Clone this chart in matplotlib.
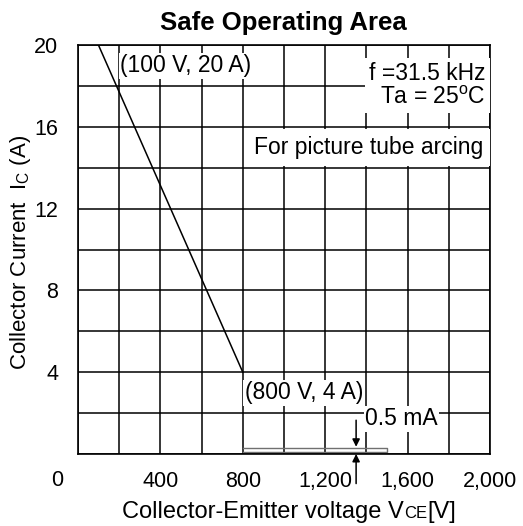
import matplotlib.pyplot as plt

plt.rcParams['font.family'] = ['Liberation Sans', 'DejaVu Sans']
plt.rcParams['mathtext.fontset'] = 'custom'
plt.rcParams['mathtext.rm'] = 'Liberation Sans'
plt.rcParams['mathtext.it'] = 'Liberation Sans:italic'

# SOA limit line (VCE, IC)
soa_v = [100, 800]
soa_i = [20, 4]
# leakage band (0.5 mA region), drawn as a thin double line
leak_v = [800, 1500, 1500, 800]
leak_i = [0.3, 0.3, 0.1, 0.1]
arrow_v = 1350

x_grid = list(range(0, 2001, 200))
x_labels = {400: '400', 800: '800', 1200: '1,200', 1600: '1,600', 2000: '2,000'}
y_grid = list(range(0, 21, 2))
y_labels = {4: '4', 8: '8', 12: '12', 16: '16', 20: '20'}

fig = plt.figure(figsize=(5.23, 5.26), dpi=100)
ax = fig.add_axes([0.149, 0.137, 0.788, 0.777])
ax.set_xlim(0, 2000)
ax.set_ylim(0, 20)

ax.set_xticks(x_grid)
ax.set_xticklabels([x_labels.get(v, '') for v in x_grid])
ax.set_yticks(y_grid)
ax.set_yticklabels([y_labels.get(v, '') for v in y_grid])
ax.tick_params(length=0, labelsize=15.5, colors='black')
ax.tick_params(axis='x', pad=12)
ax.tick_params(axis='y', pad=14)
ax.grid(True, color='black', lw=1.1)
for s in ax.spines.values():
    s.set_linewidth(1.2)

ax.plot(soa_v, soa_i, color='black', lw=1.1)
ax.plot(leak_v, leak_i, color='#707070', lw=1.0)

# dimension arrows for 0.5 mA
ax.annotate('', xy=(arrow_v, 0.35), xytext=(arrow_v, 1.65),
            arrowprops=dict(arrowstyle='-|>', color='black', lw=1.1,
                            mutation_scale=11, shrinkA=0, shrinkB=0))
ax.annotate('', xy=(arrow_v, 0.0), xytext=(arrow_v, -1.45),
            arrowprops=dict(arrowstyle='-|>', color='black', lw=1.1,
                            mutation_scale=11, shrinkA=0, shrinkB=0),
            annotation_clip=False)

fs = 16.5
wb = dict(facecolor='white', edgecolor='none', pad=1)
ax.text(205, 19.0, '(100 V, 20 A)', fontsize=fs, va='center', ha='left', bbox=wb)
ax.text(810, 3.0, '(800 V, 4 A)', fontsize=fs, va='center', ha='left', bbox=wb)
ax.text(1393, 1.72, '0.5 mA', fontsize=fs, va='center', ha='left', bbox=wb)
ax.text(1978, 18.05, 'f =31.5 kHz\nTa = 25$^{\\mathregular{o}}$C', fontsize=fs,
        va='center', ha='right', multialignment='right', linespacing=1.05,
        bbox=dict(facecolor='white', edgecolor='none', pad=3))
ax.text(1968, 15.0, 'For picture tube arcing', fontsize=fs, va='center', ha='right',
        bbox=dict(facecolor='white', edgecolor='none', pad=5))
ax.text(-100, -1.3, '0', fontsize=15.5, va='center', ha='center', clip_on=False)

fig.text(0.541, 0.943, 'Safe Operating Area', fontsize=18.5, fontweight='bold',
         ha='center', va='baseline')

# x label: "V" followed by small-cap "CE" on the baseline, then "[V]"
xl = fig.text(0.233, 0.015, 'Collector-Emitter voltage V', fontsize=17,
              ha='left', va='baseline')
ce = ax.annotate('CE', xy=(1, 0), xycoords=xl, xytext=(0.3, 3.6),
                 textcoords='offset points', fontsize=12, ha='left', va='baseline',
                 annotation_clip=False)
ax.annotate('[V]', xy=(1, 0), xycoords=ce, xytext=(0.3, 2.5),
            textcoords='offset points', fontsize=17, ha='left', va='baseline',
            annotation_clip=False)

fig.text(0.040, 0.52, 'Collector Current  I$_{\\mathregular{C}}$ (A)',
         fontsize=16, ha='center', va='center', rotation=90)

fig.savefig('out.png', dpi=100)
